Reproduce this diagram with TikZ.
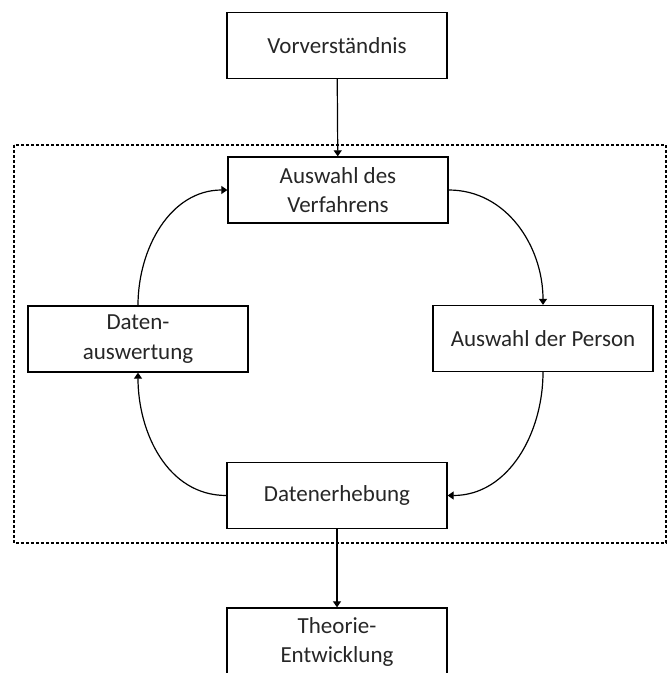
\documentclass[tikz,border=0pt]{standalone}
\usepackage{fontspec}
\setmainfont{Carlito}
\usetikzlibrary{arrows.meta}
\begin{document}
\begin{tikzpicture}[x=1pt,y=1pt,
  box/.style={draw, line width=1.3pt, minimum width=220pt, minimum height=66pt,
    align=center, font=\fontsize{23}{29.5}\selectfont, inner sep=2pt, text=black!85},
  conn/.style={line width=1.2pt, -{Triangle[length=6pt,width=8pt]}}]
\useasboundingbox (0,0) rectangle (670,-673);
\draw[line width=1.1pt, dash pattern=on 3pt off 2pt] (14,-145) rectangle (666,-543);
\node[box] (V) at (337,-45.5) {Vorverständnis};
\node[box] (A) at (338,-190) {Auswahl des\\Verfahrens};
\node[box] (D) at (138,-339) {Daten-\\auswertung};
\node[box] (P) at (543,-338.5) {Auswahl der Person};
\node[box] (E) at (337,-495.5) {Datenerhebung};
\node[box, minimum height=68pt] (T) at (337,-642) {Theorie-\\Entwicklung};
\draw[conn] (V) -- (A);
\draw[conn] (E) -- (T);
\draw[conn] (A.east) to[out=0,in=90] (P.north);
\draw[conn] (P.south) to[out=-90,in=0] (E.east);
\draw[conn] (E.west) to[out=180,in=-90] (D.south);
\draw[conn] (D.north) to[out=90,in=180] (A.west);
\end{tikzpicture}
\end{document}
